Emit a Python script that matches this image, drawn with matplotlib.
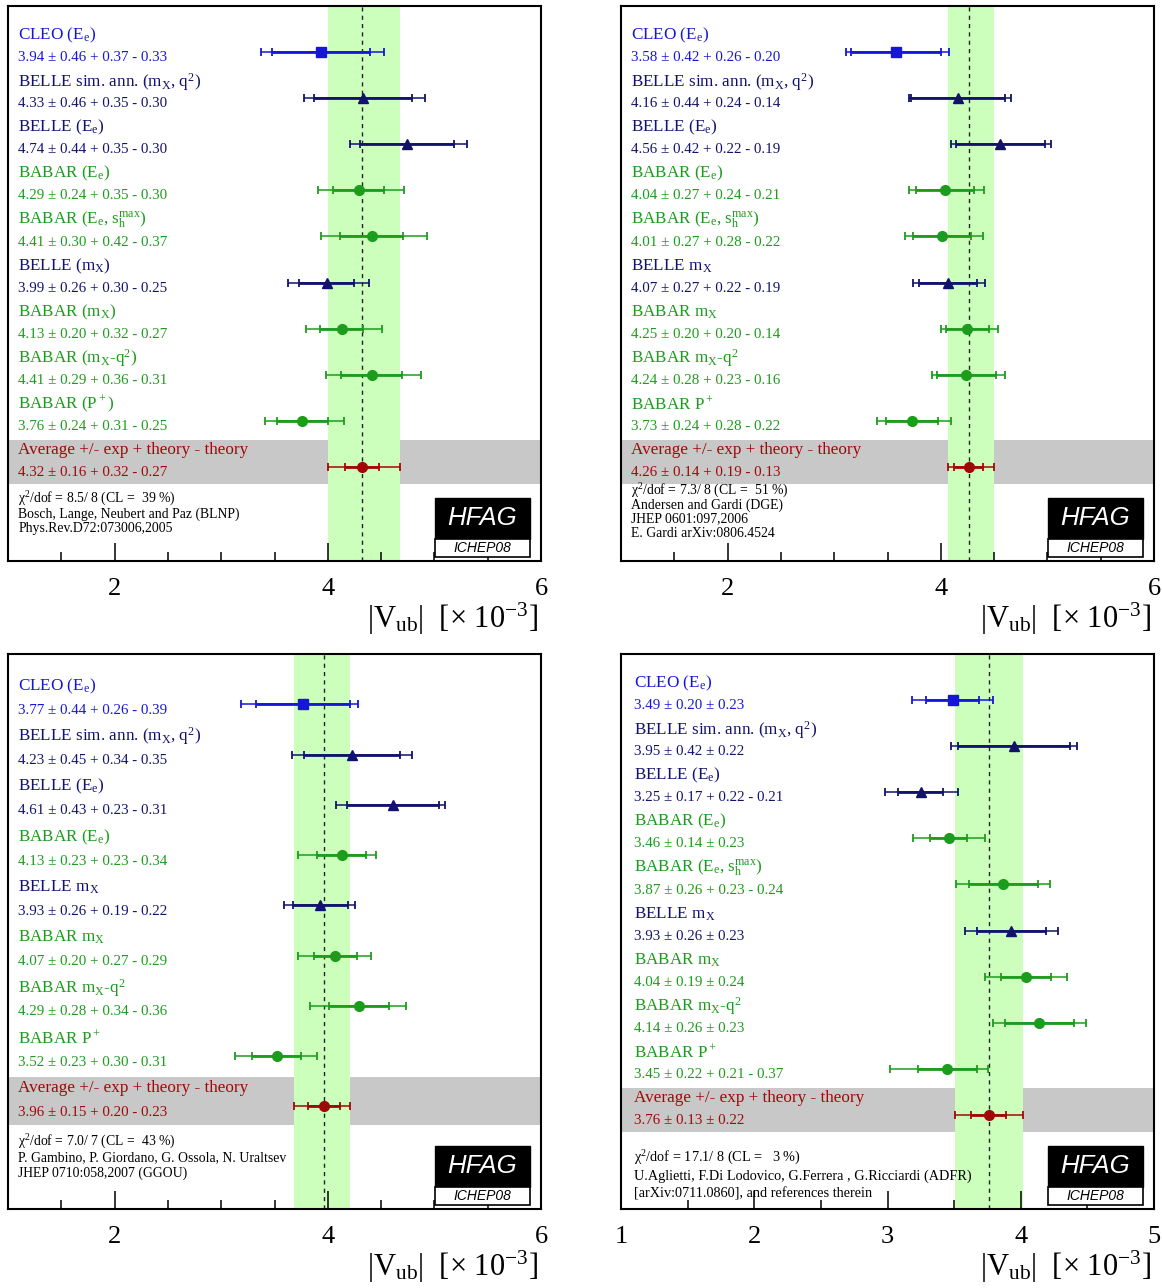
import numpy as np
import matplotlib
matplotlib.use("Agg")
import matplotlib.pyplot as plt
from matplotlib.patches import Rectangle
from matplotlib.ticker import MultipleLocator
from matplotlib.transforms import blended_transform_factory

plt.rcParams["font.family"] = "Liberation Serif"
plt.rcParams["mathtext.fontset"] = "custom"
plt.rcParams["mathtext.rm"] = "Liberation Serif"
plt.rcParams["mathtext.it"] = "Liberation Serif"
plt.rcParams["mathtext.bf"] = "Liberation Serif:bold"

# ---- data -------------------------------------------------------------
# name labels (two naming styles used by the panels)
names_a = [r"CLEO (E$_\mathrm{e}$)", r"BELLE sim. ann. (m$_\mathrm{X}$, q$^2$)",
           r"BELLE (E$_\mathrm{e}$)", r"BABAR (E$_\mathrm{e}$)",
           r"BABAR (E$_\mathrm{e}$, s$_\mathrm{h}^\mathrm{max}$)",
           r"BELLE (m$_\mathrm{X}$)", r"BABAR (m$_\mathrm{X}$)",
           r"BABAR (m$_\mathrm{X}$-q$^2$)", r"BABAR (P$^+$)"]
names_b = [r"CLEO (E$_\mathrm{e}$)", r"BELLE sim. ann. (m$_\mathrm{X}$, q$^2$)",
           r"BELLE (E$_\mathrm{e}$)", r"BABAR (E$_\mathrm{e}$)",
           r"BABAR (E$_\mathrm{e}$, s$_\mathrm{h}^\mathrm{max}$)",
           r"BELLE m$_\mathrm{X}$", r"BABAR m$_\mathrm{X}$",
           r"BABAR m$_\mathrm{X}$-q$^2$", r"BABAR P$^+$"]
expt_9 = ["CLEO", "BELLE", "BELLE", "BABAR", "BABAR", "BELLE", "BABAR", "BABAR", "BABAR"]

names_c = [r"CLEO (E$_\mathrm{e}$)", r"BELLE sim. ann. (m$_\mathrm{X}$, q$^2$)",
           r"BELLE (E$_\mathrm{e}$)", r"BABAR (E$_\mathrm{e}$)",
           r"BELLE m$_\mathrm{X}$", r"BABAR m$_\mathrm{X}$",
           r"BABAR m$_\mathrm{X}$-q$^2$", r"BABAR P$^+$"]
expt_8 = ["CLEO", "BELLE", "BELLE", "BABAR", "BELLE", "BABAR", "BABAR", "BABAR"]

# BLNP
blnp_val = [3.94, 4.33, 4.74, 4.29, 4.41, 3.99, 4.13, 4.41, 3.76]
blnp_exp = [0.46, 0.46, 0.44, 0.24, 0.30, 0.26, 0.20, 0.29, 0.24]
blnp_thp = [0.37, 0.35, 0.35, 0.35, 0.42, 0.30, 0.32, 0.36, 0.31]
blnp_thm = [0.33, 0.30, 0.30, 0.30, 0.37, 0.25, 0.27, 0.31, 0.25]
blnp_avg = [4.32, 0.16, 0.32, 0.27]

# DGE
dge_val = [3.58, 4.16, 4.56, 4.04, 4.01, 4.07, 4.25, 4.24, 3.73]
dge_exp = [0.42, 0.44, 0.42, 0.27, 0.27, 0.27, 0.20, 0.28, 0.24]
dge_thp = [0.26, 0.24, 0.22, 0.24, 0.28, 0.22, 0.20, 0.23, 0.28]
dge_thm = [0.20, 0.14, 0.19, 0.21, 0.22, 0.19, 0.14, 0.16, 0.22]
dge_avg = [4.26, 0.14, 0.19, 0.13]

# GGOU
ggou_val = [3.77, 4.23, 4.61, 4.13, 3.93, 4.07, 4.29, 3.52]
ggou_exp = [0.44, 0.45, 0.43, 0.23, 0.26, 0.20, 0.28, 0.23]
ggou_thp = [0.26, 0.34, 0.23, 0.23, 0.19, 0.27, 0.34, 0.30]
ggou_thm = [0.39, 0.35, 0.31, 0.34, 0.22, 0.29, 0.36, 0.31]
ggou_avg = [3.96, 0.15, 0.20, 0.23]

# ADFR
adfr_val = [3.49, 3.95, 3.25, 3.46, 3.87, 3.93, 4.04, 4.14, 3.45]
adfr_exp = [0.20, 0.42, 0.17, 0.14, 0.26, 0.26, 0.19, 0.26, 0.22]
adfr_thp = [0.23, 0.22, 0.22, 0.23, 0.23, 0.23, 0.24, 0.23, 0.21]
adfr_thm = [0.23, 0.22, 0.21, 0.23, 0.24, 0.23, 0.24, 0.23, 0.37]
adfr_avg = [3.76, 0.13, 0.22, 0.22]

blnp_notes = ["χ$^2$/dof = 8.5/ 8 (CL =  39 %)",
              "Bosch, Lange, Neubert and Paz (BLNP)",
              "Phys.Rev.D72:073006,2005"]
dge_notes = ["χ$^2$/dof = 7.3/ 8 (CL =  51 %)",
             "Andersen and Gardi (DGE)",
             "JHEP 0601:097,2006",
             "E. Gardi arXiv:0806.4524"]
ggou_notes = ["χ$^2$/dof = 7.0/ 7 (CL =  43 %)",
              "P. Gambino, P. Giordano, G. Ossola, N. Uraltsev",
              "JHEP 0710:058,2007 (GGOU)"]
adfr_notes = ["χ$^2$/dof = 17.1/ 8 (CL =   3 %)",
              "U.Aglietti, F.Di Lodovico, G.Ferrera , G.Ricciardi (ADFR)",
              "[arXiv:0711.0860], and references therein"]

# ---- style ------------------------------------------------------------
colors = {"CLEO": "#1616d8", "BELLE": "#12126e", "BABAR": "#1c9c1c"}
markers = {"CLEO": ("s", 6.5), "BELLE": ("^", 7.5), "BABAR": ("o", 7)}
avg_color = "#a00808"


def fmt(v, e, tp, tm):
    if tp == tm:
        return f"{v:.2f} \u00b1 {e:.2f} \u00b1 {tp:.2f}"
    return f"{v:.2f} \u00b1 {e:.2f} + {tp:.2f} - {tm:.2f}"


def draw_errbar(ax, v, y, e, tp, tm, c, m, ms):
    lo = np.hypot(e, tm)
    hi = np.hypot(e, tp)
    ax.errorbar(v, y, xerr=[[lo], [hi]], fmt="none", ecolor=c, elinewidth=1.1,
                capsize=2.6, capthick=1.3, zorder=4)
    ax.errorbar(v, y, xerr=e, fmt="none", ecolor=c, elinewidth=2.0,
                capsize=2.6, capthick=1.3, zorder=4)
    ax.plot(v, y, marker=m, ms=ms, color=c, zorder=5)


def draw_panel(ax, names, expts, val, exp, thp, thm, avg, notes,
               xmax, major, tx, note_y, note_fs):
    n = len(val)
    tr = blended_transform_factory(ax.transAxes, ax.transData)
    a, ae, ap, am = avg
    lo_a, hi_a = np.hypot(ae, am), np.hypot(ae, ap)

    ax.axhspan(n - 0.58, n + 0.36, color="#c8c8c8", lw=0, zorder=0.5)
    ax.axvspan(a - lo_a, a + hi_a, color="#ccffbb", lw=0, zorder=1)
    ax.axvline(a, color="#222222", lw=1.0, ls=(0, (3, 3)), zorder=1.5)

    for i in range(n):
        c = colors[expts[i]]
        m, ms = markers[expts[i]]
        draw_errbar(ax, val[i], i, exp[i], thp[i], thm[i], c, m, ms)
        ax.text(tx, i - 0.36, names[i], transform=tr, color=c, fontsize=12.3, va="center")
        ax.text(tx, i + 0.12, fmt(val[i], exp[i], thp[i], thm[i]), transform=tr,
                color=c, fontsize=10.8, va="center")

    draw_errbar(ax, a, n, ae, ap, am, avg_color, "o", 7)
    ax.text(tx, n - 0.36, "Average +/- exp + theory - theory", transform=tr,
            color=avg_color, fontsize=12.3, va="center")
    ax.text(tx, n + 0.12, fmt(a, ae, ap, am), transform=tr,
            color=avg_color, fontsize=10.8, va="center")

    for k, line in enumerate(notes):
        ax.text(tx, note_y[k], line, transform=ax.transAxes, fontsize=note_fs,
                va="center", color="black", zorder=3)

    # HFAG logo
    ax.add_patch(Rectangle((0.801, 0.0396), 0.178, 0.0740, transform=ax.transAxes,
                           facecolor="black", edgecolor="black", lw=1, zorder=2.2))
    ax.add_patch(Rectangle((0.801, 0.0072), 0.178, 0.0324, transform=ax.transAxes,
                           facecolor="white", edgecolor="black", lw=1.2, zorder=2.2))
    ax.text(0.89, 0.0770, "HFAG", transform=ax.transAxes, color="white",
            fontsize=18.5, style="italic", family="Liberation Sans",
            ha="center", va="center", zorder=2.3)
    ax.text(0.89, 0.0234, "ICHEP08", transform=ax.transAxes, color="black",
            fontsize=10, style="italic", family="Liberation Sans",
            ha="center", va="center", zorder=2.3)

    ax.set_xlim(1, xmax)
    ax.set_ylim(n + 2.04, -1.0)
    ax.set_yticks([])
    ax.xaxis.set_major_locator(MultipleLocator(major))
    ax.xaxis.set_minor_locator(MultipleLocator(0.5))
    ax.tick_params(axis="x", which="major", direction="in", length=13, width=1.1,
                   labelsize=19, pad=12)
    ax.tick_params(axis="x", which="minor", direction="in", length=6.5, width=1.1)
    for s in ax.spines.values():
        s.set_linewidth(1.5)
    ax.text(0.994, -0.121, "|V$_\\mathrm{ub}$|  [\u00d7 10$^{-3}$]", transform=ax.transAxes,
            ha="right", va="baseline", fontsize=22)


fig = plt.figure(figsize=(11.62, 12.88), dpi=100)
W, H = 1162, 1288
aw, ah = 533 / W, 555 / H
ax1 = fig.add_axes([8 / W, (H - 561) / H, aw, ah])
ax2 = fig.add_axes([621 / W, (H - 561) / H, aw, ah])
ax3 = fig.add_axes([8 / W, (H - 1209) / H, aw, ah])
ax4 = fig.add_axes([621 / W, (H - 1209) / H, aw, ah])

draw_panel(ax1, names_a, expt_9, blnp_val, blnp_exp, blnp_thp, blnp_thm, blnp_avg,
           blnp_notes, 6, 2, 0.0195, [0.112, 0.085, 0.059], 9.9)
draw_panel(ax2, names_b, expt_9, dge_val, dge_exp, dge_thp, dge_thm, dge_avg,
           dge_notes, 6, 2, 0.0195, [0.126, 0.101, 0.076, 0.050], 9.9)
draw_panel(ax3, names_c, expt_8, ggou_val, ggou_exp, ggou_thp, ggou_thm, ggou_avg,
           ggou_notes, 6, 2, 0.0195, [0.121, 0.092, 0.065], 9.9)
draw_panel(ax4, names_b, expt_9, adfr_val, adfr_exp, adfr_thp, adfr_thm, adfr_avg,
           adfr_notes, 5, 1, 0.025, [0.092, 0.059, 0.027], 10.3)

fig.savefig("out.png", dpi=100)
